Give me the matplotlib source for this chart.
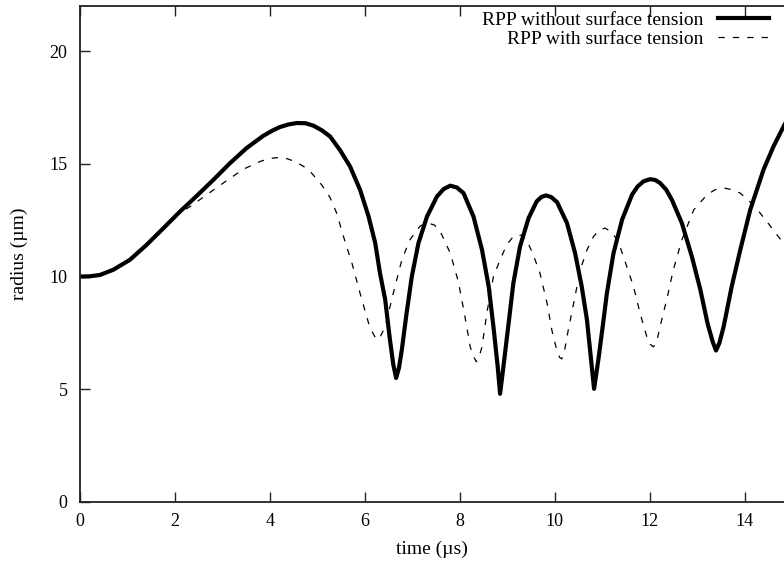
import matplotlib
matplotlib.use("Agg")
import matplotlib.pyplot as plt

plt.rcParams['font.family'] = ['Liberation Serif', 'DejaVu Serif']

# radius vs time
t_free = [0.0, 0.2, 0.42, 0.70, 1.05, 1.40, 1.76, 2.11, 2.46, 2.81, 3.16, 3.51, 3.86,
          4.05, 4.21, 4.40, 4.57, 4.75, 4.92, 5.10, 5.27, 5.48, 5.69, 5.90, 6.08,
          6.22, 6.32, 6.43, 6.53, 6.60, 6.66, 6.72, 6.78, 6.88, 6.99, 7.13, 7.31,
          7.52, 7.66, 7.80, 7.94, 8.08, 8.29, 8.47, 8.61, 8.71, 8.80, 8.85, 8.92,
          9.03, 9.13, 9.27, 9.45, 9.62, 9.72, 9.82, 9.93, 10.05, 10.26, 10.43, 10.57,
          10.68, 10.76, 10.83, 10.92, 11.03, 11.10, 11.24, 11.42, 11.63, 11.75, 11.87,
          12.01, 12.12, 12.22, 12.35, 12.47, 12.68, 12.89, 13.07, 13.22, 13.33, 13.40,
          13.47, 13.56, 13.73, 13.91, 14.12, 14.40, 14.61, 14.84, 15.0]
r_free = [10.0, 10.01, 10.07, 10.3, 10.74, 11.4, 12.15, 12.89, 13.58, 14.29, 15.03, 15.7, 16.24,
          16.47, 16.63, 16.75, 16.81, 16.8, 16.69, 16.48, 16.21, 15.6, 14.88, 13.85, 12.66,
          11.48, 10.15, 8.97, 7.19, 6.1, 5.5, 5.95, 6.75, 8.37, 10.0, 11.48, 12.66,
          13.55, 13.88, 14.03, 13.95, 13.7, 12.66, 11.18, 9.56, 7.78, 6.0, 4.8, 6.0,
          7.93, 9.71, 11.33, 12.59, 13.33, 13.53, 13.6, 13.52, 13.3, 12.37, 11.04, 9.56,
          8.08, 6.45, 5.02, 6.3, 8.08, 9.26, 11.04, 12.52, 13.63, 14.0, 14.22,
          14.32, 14.28, 14.15, 13.85, 13.4, 12.37, 10.89, 9.41, 7.93, 7.1, 6.72,
          7.05, 7.78, 9.56, 11.18, 12.96, 14.74, 15.77, 16.73, 17.3]

t_tens = [0.0, 0.2, 0.42, 0.70, 1.05, 1.40, 1.76, 2.11, 2.32, 2.67, 3.02, 3.44, 3.79,
          3.98, 4.18, 4.36, 4.53, 4.70, 4.85, 5.09, 5.27, 5.41, 5.55, 5.73, 5.90,
          6.08, 6.18, 6.25, 6.33, 6.43, 6.60, 6.78, 6.95, 7.17, 7.34, 7.47, 7.59,
          7.80, 7.97, 8.11, 8.22, 8.29, 8.35, 8.41, 8.47, 8.57, 8.71, 8.85, 8.99,
          9.10, 9.20, 9.30, 9.41, 9.55, 9.69, 9.84, 9.94, 10.06, 10.11, 10.15, 10.20,
          10.26, 10.40, 10.54, 10.68, 10.82, 10.94, 11.06, 11.20, 11.34, 11.52, 11.66,
          11.80, 11.94, 12.01, 12.08, 12.15, 12.22, 12.36, 12.50, 12.68, 12.93, 13.21,
          13.38, 13.56, 13.74, 13.91, 14.19, 14.47, 14.82, 15.0]
r_tens = [10.0, 10.01, 10.07, 10.3, 10.74, 11.4, 12.15, 12.85, 13.1, 13.63, 14.15, 14.76, 15.1,
          15.23, 15.28, 15.23, 15.1, 14.9, 14.66, 14.07, 13.5, 12.8, 11.78, 10.59, 9.26,
          7.93, 7.45, 7.2, 7.35, 7.78, 9.26, 10.74, 11.63, 12.25, 12.37, 12.28, 12.0,
          11.04, 9.78, 8.22, 6.89, 6.45, 6.22, 6.45, 6.89, 8.37, 10.0, 10.74, 11.41,
          11.7, 11.85, 11.83, 11.63, 10.96, 10.15, 8.82, 7.63, 6.6, 6.4, 6.35, 6.6,
          7.34, 8.82, 10.3, 11.18, 11.78, 12.05, 12.15, 11.98, 11.55, 10.44, 9.56,
          8.37, 7.34, 7.0, 6.88, 7.1, 7.78, 8.97, 10.3, 11.63, 12.96, 13.63,
          13.85, 13.93, 13.85, 13.7, 13.18, 12.44, 11.48, 11.0]

fig = plt.figure(figsize=(7.84, 5.62), dpi=100)
ax = fig.add_axes([80/784, 60/562, 712/784, 496/562])

ax.plot(t_free, r_free, color='black', lw=3.0, solid_joinstyle='round',
        label='RPP without surface tension')
ax.plot(t_tens, r_tens, color='black', lw=0.9, linestyle=(0, (5, 6.5)),
        label='RPP with surface tension')

ax.set_xlim(0, 15)
ax.set_ylim(0, 22)
ax.set_xticks([0, 2, 4, 6, 8, 10, 12, 14])
ax.set_yticks([0, 5, 10, 15, 20])
ax.tick_params(direction='in', length=7, width=1.0, labelsize=13,
               top=True, right=False, colors='#222222', labelcolor='black')
ax.tick_params(axis='x', pad=8)
ax.tick_params(axis='y', pad=9)
for s in ax.spines.values():
    s.set_linewidth(1.3)
    s.set_color('#222222')

ax.set_xlabel('time (µs)', fontsize=14)
ax.set_ylabel('radius (µm)', fontsize=14)
ax.xaxis.set_label_coords((432-80)/712, -0.079)
ax.yaxis.set_label_coords(-0.073, 0.5)

ax.legend(loc='upper right', bbox_to_anchor=((769-80)/712, (502-11)/496),
          frameon=False, markerfirst=False, fontsize=14, handlelength=2.6,
          handletextpad=0.75, labelspacing=0.1, borderpad=0, borderaxespad=0)

fig.savefig('out.png', dpi=100)
